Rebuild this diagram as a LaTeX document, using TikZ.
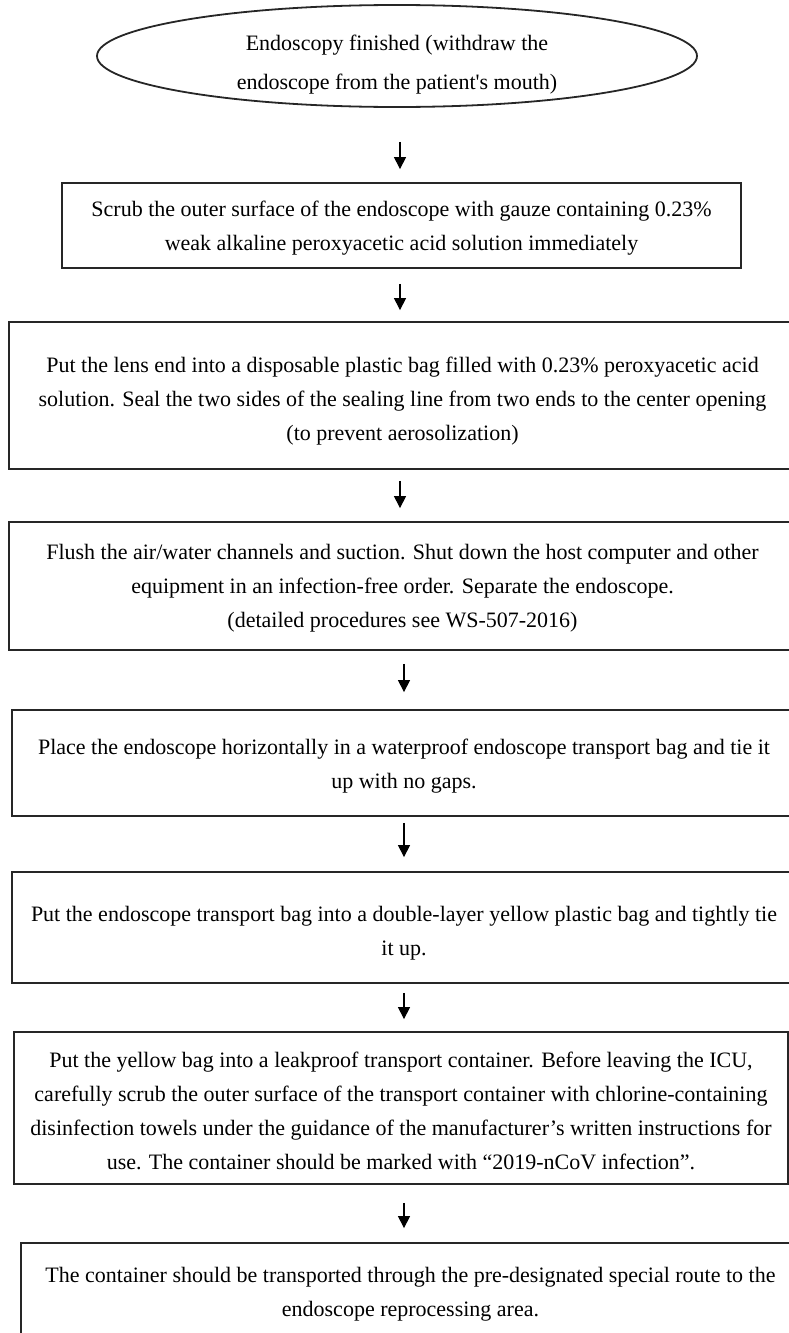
\documentclass[tikz,border=0pt]{standalone}
\usepackage{fontspec}
\setmainfont{Liberation Serif}
\usetikzlibrary{arrows.meta,shapes.geometric}
\newcommand{\lowr}[1]{\rule{0pt}{#1}}
\begin{document}
\begin{tikzpicture}[x=1pt,y=-1pt,
  box/.style={draw=black!85, line width=1.8pt, rectangle, align=center, inner sep=0pt,
    font=\fontsize{22}{34}\selectfont},
  oval/.style={draw=black!85, line width=1.8pt, ellipse, inner sep=0pt},
  txt/.style={align=center, inner sep=0pt, font=\fontsize{22}{39}\selectfont},
  arr/.style={line width=1.1pt, -{Triangle[length=12pt,width=12pt]}}]
\useasboundingbox (0,0) rectangle (789,1333);
\node[oval, minimum width=600pt, minimum height=102pt] (e) at (397,56) {};
\node[txt] (et) at (397,65)
  {Endoscopy finished (withdraw the\\endoscope from the patient\textquotesingle s mouth)};
\node[box, minimum width=679pt, minimum height=85pt] (b1) at (401.5,225.5)
  {\lowr{21.5pt}Scrub the outer surface of the endoscope with gauze containing 0.23\%\\weak alkaline peroxyacetic acid solution immediately};
\node[box, minimum width=787pt, minimum height=147pt] (b2) at (402.5,395.5)
  {\lowr{27.5pt}Put the lens end into a disposable plastic bag filled with 0.23\% peroxyacetic acid\\solution. Seal the two sides of the sealing line from two ends to the center opening\\(to prevent aerosolization)};
\node[box, minimum width=787pt, minimum height=128pt] (b3) at (402.5,586)
  {\lowr{20pt}Flush the air/water channels and suction. Shut down the host computer and other\\equipment in an infection-free order. Separate the endoscope.\\(detailed procedures see WS-507-2016)};
\node[box, minimum width=784pt, minimum height=106pt] (b4) at (404,763)
  {\lowr{21.5pt}Place the endoscope horizontally in a waterproof endoscope transport bag and tie it\\up with no gaps.};
\node[box, minimum width=784pt, minimum height=111pt] (b5) at (404,927.5)
  {\lowr{27.5pt}Put the endoscope transport bag into a double-layer yellow plastic bag and tightly tie\\it up.};
\node[box, minimum width=774pt, minimum height=152pt] (b6) at (401,1108)
  {\lowr{21.5pt}Put the yellow bag into a leakproof transport container. Before leaving the ICU,\\carefully scrub the outer surface of the transport container with chlorine-containing\\disinfection towels under the guidance of the manufacturer’s written instructions for\\use. The container should be marked with “2019-nCoV infection”.};
\node[box, minimum width=779pt, minimum height=97pt] (b7) at (410.5,1291.5)
  {\lowr{21.5pt}The container should be transported through the pre-designated special route to the\\endoscope reprocessing area.};
\coordinate (xa) at (400,0);
\coordinate (xb) at (404,0);
\draw[arr, shorten <=34pt, shorten >=13pt] (e.south -| xa) -- (b1.north -| xa);
\draw[arr, shorten <=15pt, shorten >=11pt] (b1.south -| xa) -- (b2.north -| xa);
\draw[arr, shorten <=11pt, shorten >=13pt] (b2.south -| xa) -- (b3.north -| xa);
\draw[arr, shorten <=13pt, shorten >=17pt] (b3.south -| xb) -- (b4.north -| xb);
\draw[arr, shorten <=6pt, shorten >=14pt] (b4.south -| xb) -- (b5.north -| xb);
\draw[arr, shorten <=9pt, shorten >=12pt] (b5.south -| xb) -- (b6.north -| xb);
\draw[arr, shorten <=18pt, shorten >=14pt] (b6.south -| xb) -- (b7.north -| xb);
\end{tikzpicture}
\end{document}
